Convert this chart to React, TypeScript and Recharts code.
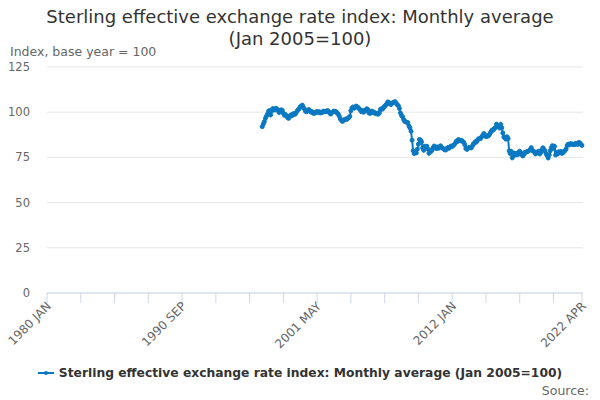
import { LineChart, Line, XAxis, YAxis, CartesianGrid } from 'recharts';

const MONTH_NAMES = ['JAN', 'FEB', 'MAR', 'APR', 'MAY', 'JUN', 'JUL', 'AUG', 'SEP', 'OCT', 'NOV', 'DEC'];

// axis runs 1980 JAN .. 2022 APR, series starts 1997 JAN
const axisStartYear = 1980;
const axisMonthCount = 509;
const seriesStartYear = 1997;

const tickMonths = [
  '1980 JAN', '1982 SEP', '1985 MAY', '1988 JAN', '1990 SEP', '1993 MAY', '1996 JAN', '1998 SEP',
  '2001 MAY', '2004 JAN', '2006 SEP', '2009 MAY', '2012 JAN', '2014 SEP', '2017 MAY', '2020 JAN', '2022 APR',
];
const labelledTicks = ['1980 JAN', '1990 SEP', '2001 MAY', '2012 JAN', '2022 APR'];
const yTicks = [0, 25, 50, 75, 100, 125];

// monthly averages, Jan 2005 = 100
const y1997 = [92.0, 93.5, 94.8, 96.6, 97.8, 99.0, 100.6, 100.9, 98.6, 100.8, 102.0, 101.4];
const y1998 = [101.2, 102.2, 101.7, 100.9, 99.8, 100.9, 101.3, 101.0, 99.4, 98.3, 98.7, 97.9];
const y1999 = [97.0, 96.6, 97.9, 98.4, 98.0, 99.0, 99.2, 98.8, 99.5, 100.6, 101.4, 101.9];
const y2000 = [103.0, 103.4, 103.9, 102.6, 101.8, 100.5, 100.2, 100.9, 101.5, 100.7, 100.1, 100.4];
const y2001 = [99.6, 99.3, 99.6, 100.1, 100.4, 99.9, 100.3, 99.6, 99.8, 99.9, 100.6, 100.4];
const y2002 = [100.2, 100.6, 100.9, 100.3, 99.4, 99.0, 99.8, 100.2, 100.6, 100.5, 100.2, 99.5];
const y2003 = [99.0, 97.8, 96.3, 95.6, 94.9, 95.6, 95.9, 96.2, 96.0, 96.7, 96.9, 97.7];
const y2004 = [100.8, 102.3, 102.9, 102.2, 102.6, 103.4, 103.0, 102.5, 101.8, 101.2, 100.3, 101.0];
const y2005 = [100.0, 100.6, 101.2, 101.9, 101.5, 99.7, 99.3, 100.2, 100.6, 99.8, 100.0, 99.4];
const y2006 = [99.1, 99.5, 98.9, 99.6, 101.5, 101.9, 101.7, 102.6, 103.3, 103.9, 104.6, 105.7];
const y2007 = [105.3, 104.7, 104.2, 105.0, 105.4, 105.6, 105.8, 104.9, 104.1, 103.6, 102.1, 99.6];
const y2008 = [98.2, 97.5, 96.0, 94.9, 94.6, 94.5, 94.2, 92.4, 91.3, 89.5, 84.5, 78.7];
const y2009 = [77.1, 78.0, 77.5, 79.5, 82.3, 84.9, 84.6, 83.6, 80.3, 79.0, 81.2, 80.8];
const y2010 = [81.2, 79.6, 77.3, 79.0, 78.3, 79.1, 80.5, 81.3, 80.3, 79.9, 80.8, 80.0];
const y2011 = [80.8, 81.4, 80.5, 80.1, 79.6, 79.2, 79.1, 79.9, 80.5, 80.0, 80.8, 81.3];
const y2012 = [81.0, 81.6, 82.1, 82.9, 84.0, 83.8, 84.9, 84.3, 84.2, 84.4, 83.8, 83.3];
const y2013 = [82.0, 79.9, 79.4, 80.1, 80.4, 80.6, 80.2, 81.2, 82.4, 82.8, 83.7, 83.5];
const y2014 = [84.6, 85.3, 85.2, 85.6, 86.4, 87.1, 88.2, 87.4, 86.5, 86.7, 86.8, 87.3];
const y2015 = [88.4, 89.4, 90.2, 90.1, 91.0, 91.5, 93.4, 92.6, 92.1, 91.2, 93.2, 91.4];
const y2016 = [88.5, 86.3, 85.7, 85.1, 86.4, 85.4, 78.6, 77.2, 78.3, 74.8, 76.0, 77.4];
const y2017 = [76.3, 77.2, 76.5, 77.8, 78.4, 76.8, 77.1, 75.8, 76.7, 77.8, 77.9, 78.2];
const y2018 = [78.4, 78.8, 79.4, 80.4, 78.8, 78.4, 78.1, 76.9, 77.8, 77.8, 78.4, 76.9];
const y2019 = [77.7, 79.1, 80.3, 79.4, 78.5, 77.0, 76.0, 74.7, 76.4, 78.7, 80.3, 81.5];
const y2020 = [80.0, 81.1, 76.3, 77.8, 77.0, 78.1, 77.6, 78.3, 77.2, 77.6, 78.3, 78.8];
const y2021 = [79.7, 81.6, 82.3, 81.9, 82.5, 82.6, 82.2, 82.1, 82.1, 82.8, 82.4, 82.2];
const y2022 = [83.3, 83.0, 82.3, 81.6];

const seriesValues = [
  ...y1997, ...y1998, ...y1999, ...y2000, ...y2001, ...y2002, ...y2003, ...y2004, ...y2005,
  ...y2006, ...y2007, ...y2008, ...y2009, ...y2010, ...y2011, ...y2012, ...y2013, ...y2014,
  ...y2015, ...y2016, ...y2017, ...y2018, ...y2019, ...y2020, ...y2021, ...y2022,
];

const SERIES_NAME = 'Sterling effective exchange rate index: Monthly average (Jan 2005=100)';
const BLUE = '#0a78c2';
const FONT = '"DejaVu Sans", Verdana, sans-serif';

const offset = (seriesStartYear - axisStartYear) * 12;
const data = Array.from({ length: axisMonthCount }, (_, i) => ({
  month: `${axisStartYear + Math.floor(i / 12)} ${MONTH_NAMES[i % 12]}`,
  value: i >= offset ? seriesValues[i - offset] ?? null : null,
}));

function MonthTick({ x, y, payload }: any) {
  if (!labelledTicks.includes(payload.value)) return <g />;
  const ax = x - 1;
  const ay = y - 4;
  return (
    <text
      x={ax}
      y={ay}
      textAnchor="end"
      fontSize={12}
      fill="#666"
      fontFamily={FONT}
      transform={`rotate(-45 ${ax} ${ay})`}
      dy="0.7em"
    >
      {payload.value}
    </text>
  );
}

export default function App() {
  return (
    <div style={{ position: 'absolute', left: 0, top: 0, width: 600, height: 400, background: '#fff', fontFamily: FONT }}>
      <div style={{ position: 'absolute', left: 0, top: 6, width: 600, textAlign: 'center', fontSize: 18, lineHeight: '22px', color: '#333' }}>
        Sterling effective exchange rate index: Monthly average
        <br />
        (Jan 2005=100)
      </div>
      <div style={{ position: 'absolute', left: 10, top: 44, fontSize: 12.5, color: '#666' }}>Index, base year = 100</div>
      <LineChart width={600} height={400} data={data} margin={{ top: 67, right: 17, bottom: 47, left: 7 }}>
        <CartesianGrid vertical={false} stroke="#e6e6e6" />
        <XAxis
          dataKey="month"
          type="category"
          ticks={tickMonths}
          interval={0}
          height={60}
          tick={<MonthTick />}
          tickSize={10}
          tickLine={{ stroke: '#ccd6eb' }}
          axisLine={{ stroke: '#ccd6eb' }}
        />
        <YAxis
          domain={[0, 125]}
          ticks={yTicks}
          width={40}
          axisLine={false}
          tickLine={false}
          tickSize={0}
          tickMargin={17}
          tick={{ fontSize: 11.5, fill: '#666', fontFamily: FONT }}
        />
        <Line
          dataKey="value"
          name={SERIES_NAME}
          stroke={BLUE}
          strokeWidth={2}
          dot={{ r: 2, fill: BLUE, stroke: BLUE, strokeWidth: 1 }}
          isAnimationActive={false}
        />
      </LineChart>
      <div style={{ position: 'absolute', left: 0, top: 366, width: 600, display: 'flex', justifyContent: 'center', alignItems: 'center' }}>
        <svg width={16} height={10} style={{ marginRight: 5 }}>
          <line x1={0} y1={5} x2={16} y2={5} stroke={BLUE} strokeWidth={2} />
          <circle cx={8} cy={5} r={2} fill={BLUE} />
        </svg>
        <span style={{ fontSize: 12.3, fontWeight: 'bold', color: '#333' }}>{SERIES_NAME}</span>
      </div>
      <div style={{ position: 'absolute', right: 11, top: 383, fontSize: 12.5, color: '#666' }}>Source:</div>
    </div>
  );
}
